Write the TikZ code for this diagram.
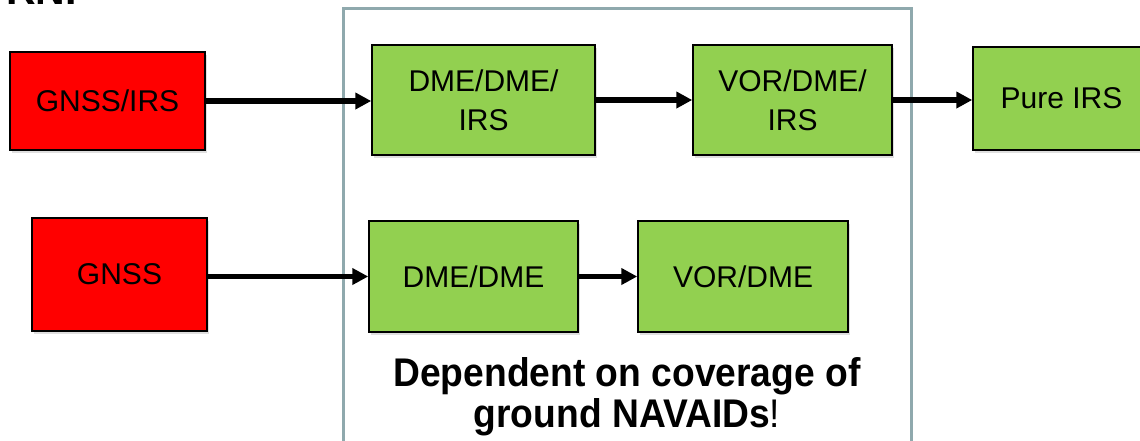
\documentclass[tikz,border=0pt]{standalone}
\usepackage{fontspec}
\setmainfont{Liberation Sans}
\usetikzlibrary{arrows.meta,shadows}
\definecolor{boxgreen}{HTML}{92D050}
\definecolor{boxred}{HTML}{FF0000}
\definecolor{frame}{HTML}{8FA9AD}
\tikzset{
  blk/.style={draw=black, line width=1.5pt, inner sep=0pt, align=center,
    font=\fontsize{30}{39}\selectfont,
    drop shadow={opacity=0.25, shadow xshift=2pt, shadow yshift=-3pt}},
  gbox/.style={blk, fill=boxgreen},
  rbox/.style={blk, fill=boxred},
  flow/.style={line width=5.5pt, -{Triangle[length=16pt,width=16pt]}},
}
\begin{document}
\begin{tikzpicture}[x=1pt,y=-1pt]
\useasboundingbox (0,0) rectangle (1140,440);
% title (cut off at top)
\node[anchor=base west, inner sep=0pt, font=\fontsize{41}{41}\selectfont\bfseries] (title) at (6,4) {RNP};
% container
\draw[frame, line width=3pt] (343,8) rectangle (911,470);
% boxes
\node[rbox, minimum width=195pt, minimum height=98pt] (gnssirs) at (107.5,101) {GNSS/IRS};
\node[gbox, minimum width=223pt, minimum height=110pt] (dmedmeirs) at (483.5,100) {DME/DME/\\IRS};
\node[gbox, minimum width=199pt, minimum height=110pt] (vordmeirs) at (792.5,100) {VOR/DME/\\IRS};
\node[gbox, minimum width=177pt, minimum height=103pt] (pureirs) at (1061.5,98.5) {Pure IRS};
\node[rbox, minimum width=175pt, minimum height=113pt] (gnss) at (119.5,274.5) {GNSS};
\node[gbox, minimum width=209pt, minimum height=111pt] (dmedme) at (473.5,276.5) {DME/DME};
\node[gbox, minimum width=210pt, minimum height=111pt] (vordme) at (743,276.5) {VOR/DME};
% arrows
\draw[flow] (gnssirs.east) -- (gnssirs.east -| dmedmeirs.west);
\draw[flow] (dmedmeirs.east) -- (vordmeirs.west);
\draw[flow] (vordmeirs.east) -- (pureirs.west |- vordmeirs.east);
\draw[flow] (gnss.east |- dmedme.west) -- (dmedme.west);
\draw[flow] (dmedme.east) -- (vordme.west);
% note
\node[inner sep=0pt, align=center, xscale=0.93, transform shape, font=\fontsize{40}{41}\selectfont] (note) at (627,397)
  {\textbf{Dependent on coverage of}\\\textbf{ground NAVAIDs}!};
\end{tikzpicture}
\end{document}
